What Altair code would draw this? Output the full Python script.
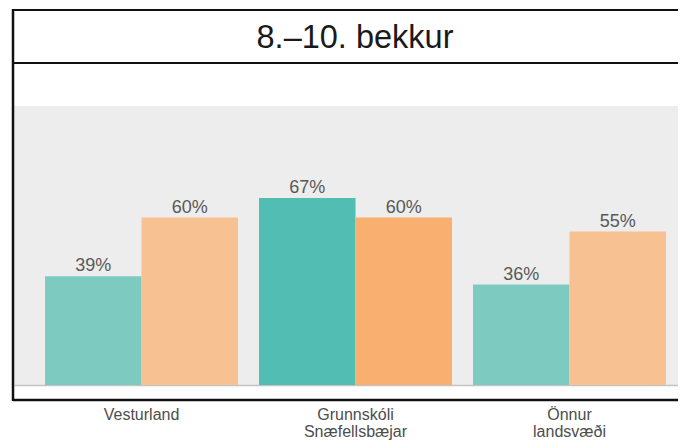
import altair as alt
import pandas as pd

# ---- data ----
title_text = "8.–10. bekkur"
groups = ["Vesturland", "Grunnskóli\nSnæfellsbæjar", "Önnur\nlandsvæði"]
series = ["A", "B"]
values_a = [0.39, 0.67, 0.36]
values_b = [0.60, 0.60, 0.55]
highlight_group = "Grunnskóli\nSnæfellsbæjar"
shade_keys = ["A-light", "B-light", "A-dark", "B-dark"]
shade_colors = ["#7DCBC0", "#F7C192", "#51BDB3", "#F9AF6F"]

rows = []
for g, a, b in zip(groups, values_a, values_b):
    tone = "dark" if g == highlight_group else "light"
    rows.append({"group": g, "series": "A", "value": a, "shade": f"A-{tone}"})
    rows.append({"group": g, "series": "B", "value": b, "shade": f"B-{tone}"})
df = pd.DataFrame(rows)

W = 664
H = 279
FONT = "Liberation Sans"

x_enc = alt.X(
    "group:N",
    sort=groups,
    scale=alt.Scale(paddingInner=0.0981, paddingOuter=0.1005, align=0.721, round=False),
    axis=alt.Axis(
        title=None,
        labelExpr="split(datum.label, '\\n')",
        labelAngle=0,
        labelFontSize=16,
        labelFont=FONT,
        labelColor="#4D4D4D",
        labelPadding=21,
        labelLineHeight=17,
        ticks=False,
        tickSize=0,
        domain=True,
        domainColor="#C4C4C4",
        domainWidth=1.5,
    ),
)
xoff_enc = alt.XOffset("series:N", sort=series, scale=alt.Scale(paddingInner=0, paddingOuter=0))
y_enc = alt.Y("value:Q", scale=alt.Scale(domain=[0, 1], nice=False, zero=True), axis=None)

base = alt.Chart(df)

bars = base.mark_bar().encode(
    x=x_enc,
    xOffset=xoff_enc,
    y=y_enc,
    color=alt.Color("shade:N", scale=alt.Scale(domain=shade_keys, range=shade_colors), legend=None),
)

labels = base.mark_text(dy=-5, baseline="alphabetic", fontSize=18, color="#595959", font=FONT).encode(
    x=x_enc,
    xOffset=xoff_enc,
    y=y_enc,
    text=alt.Text("value:Q", format=".0%"),
)

one = alt.Data(values=[{"k": 1}])
FRAME = "#111111"

top_rule = alt.Chart(one).mark_rule(color=FRAME, strokeWidth=2).encode(
    x=alt.value(-1), x2=alt.value(W + 2), y=alt.value(-96)
)
divider = alt.Chart(one).mark_rule(color=FRAME, strokeWidth=2.2).encode(
    x=alt.value(-1), x2=alt.value(W + 2), y=alt.value(-43)
)
bottom_rule = alt.Chart(one).mark_rule(color=FRAME, strokeWidth=2.5).encode(
    x=alt.value(-1), x2=alt.value(W + 2), y=alt.value(H + 15)
)
left_rule = alt.Chart(one).mark_rule(color=FRAME, strokeWidth=2.5).encode(
    x=alt.value(-1), y=alt.value(-97), y2=alt.value(H + 16)
)
title = alt.Chart(one).mark_text(
    fontSize=32.5, font=FONT, color="#1A1A1A", baseline="alphabetic", align="center"
).encode(x=alt.value(341), y=alt.value(-58), text=alt.value(title_text))

chart = (
    alt.layer(bars, labels, top_rule, divider, bottom_rule, left_rule, title)
    .properties(
        width=W,
        height=H,
        autosize=alt.AutoSizeParams(type="none"),
        padding={"left": 6, "top": 98, "right": 0, "bottom": 55},
        background="white",
    )
    .configure_view(fill="#EDEDED", strokeWidth=0)
)

chart.save("out.html", embed_options={"renderer": "svg", "actions": False})
